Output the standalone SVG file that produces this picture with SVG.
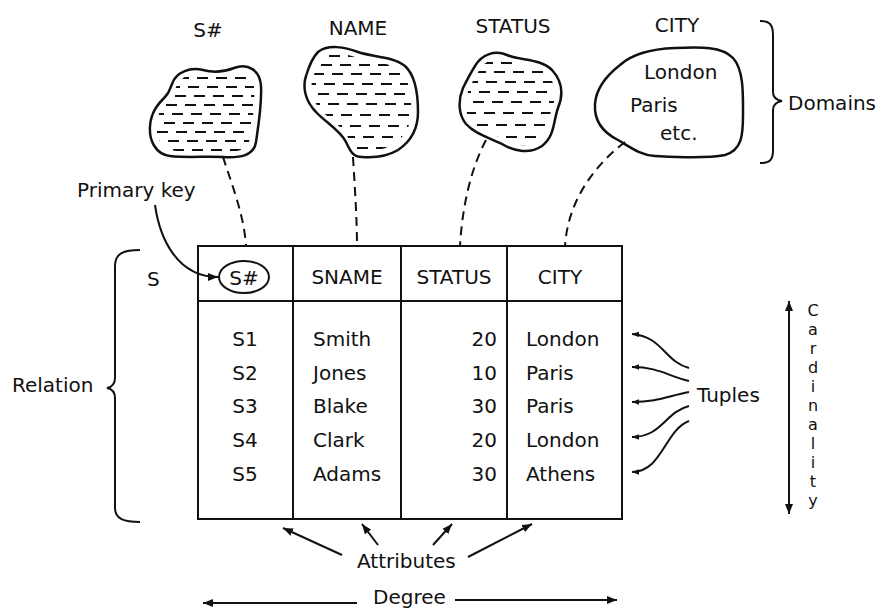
<svg xmlns="http://www.w3.org/2000/svg" xmlns:xlink="http://www.w3.org/1999/xlink" width="880" height="610" viewBox="0 0 880 610">
  <style>
    text { font-family: "DejaVu Sans", "Liberation Sans", sans-serif; font-size: 20px; fill: #111; }
    .card { font-size: 16px; text-anchor: middle; }
    .mid { text-anchor: middle; }
    .end { text-anchor: end; }
    .ln { fill: none; stroke: #111; stroke-width: 2; }
    .dash { fill: none; stroke: #111; stroke-width: 2; stroke-dasharray: 9 6; }
    .hatch line { stroke: #111; stroke-width: 2.2; stroke-dasharray: 11 8; }
    .blob { fill: #fff; stroke: #111; stroke-width: 2.5; }
  </style>
  <defs>
    <marker id="ah" viewBox="0 0 10 8" refX="10" refY="4" markerWidth="10" markerHeight="8" markerUnits="userSpaceOnUse" orient="auto">
      <path d="M0,0 L10,4 L0,8 Z" fill="#111"/>
    </marker>
    <marker id="ahs" viewBox="0 0 10 8" refX="10" refY="4" markerWidth="7" markerHeight="6" markerUnits="userSpaceOnUse" orient="auto">
      <path d="M0,0 L10,4 L0,8 Z" fill="#111"/>
    </marker>
    <marker id="ahb" viewBox="0 0 10 8" refX="10" refY="4" markerWidth="10" markerHeight="8" markerUnits="userSpaceOnUse" orient="auto-start-reverse">
      <path d="M0,0 L10,4 L0,8 Z" fill="#111"/>
    </marker>
    <path id="b-sno" d="M172,84 C176,72 190,67 203,70 C214,73 224,72 234,68 C248,63 260,70 261,86 C262,105 258,128 256,142 C254,156 240,158 223,157 C205,156 188,158 170,156 C155,154 149,140 150,126 C151,112 158,104 165,97 C170,92 170,88 172,84 Z"/>
    <path id="b-name" d="M318,52 C328,44 345,47 358,52 C372,57 392,56 405,66 C416,76 418,95 418,112 C418,130 410,142 398,150 C388,156 376,158 362,157 C352,157 350,150 346,142 C340,130 325,122 316,112 C306,102 302,88 306,76 C309,66 312,58 318,52 Z"/>
    <path id="b-status" d="M475,66 C482,54 495,50 507,55 C520,61 540,58 552,70 C563,82 563,96 558,108 C553,122 555,136 542,146 C530,154 515,152 502,144 C490,138 475,134 466,124 C458,114 458,100 463,88 C467,80 470,74 475,66 Z"/>
    <path id="b-city" d="M620,65 C632,54 650,49 675,48 C700,47 722,46 733,58 C744,70 743,95 743,115 C743,135 742,150 725,155 C705,159 675,157 655,156 C640,155 630,147 618,140 C602,132 594,120 595,104 C596,88 606,76 620,65 Z"/>
    <!-- inner outlines (blob shrunk about its centre) keep the hatching off the edge -->
    <clipPath id="c-sno"><use xlink:href="#b-sno" transform="translate(24.6 13.44) scale(0.88)"/></clipPath>
    <clipPath id="c-name"><use xlink:href="#b-name" transform="translate(43.44 12.24) scale(0.88)"/></clipPath>
    <clipPath id="c-status"><use xlink:href="#b-status" transform="translate(61.2 12.24) scale(0.88)"/></clipPath>
  </defs>

  <!-- domain S# -->
  <g id="domain-sno">
    <text class="mid" x="208" y="37">S#</text>
    <use xlink:href="#b-sno" class="blob"/>
    <g class="hatch" clip-path="url(#c-sno)">
      <line x1="140" y1="78" x2="270" y2="78" stroke-dashoffset="0"/>
      <line x1="140" y1="87" x2="270" y2="87" stroke-dashoffset="9"/>
      <line x1="140" y1="96" x2="270" y2="96" stroke-dashoffset="3"/>
      <line x1="140" y1="105" x2="270" y2="105" stroke-dashoffset="12"/>
      <line x1="140" y1="114" x2="270" y2="114" stroke-dashoffset="6"/>
      <line x1="140" y1="123" x2="270" y2="123" stroke-dashoffset="14"/>
      <line x1="140" y1="132" x2="270" y2="132" stroke-dashoffset="2"/>
      <line x1="140" y1="141" x2="270" y2="141" stroke-dashoffset="10"/>
      <line x1="140" y1="150" x2="270" y2="150" stroke-dashoffset="5"/>
    </g>
  </g>

  <!-- domain NAME -->
  <g id="domain-name">
    <text class="mid" x="358" y="35">NAME</text>
    <use xlink:href="#b-name" class="blob"/>
    <g class="hatch" clip-path="url(#c-name)">
      <line x1="295" y1="56" x2="425" y2="56" stroke-dashoffset="4"/>
      <line x1="295" y1="65" x2="425" y2="65" stroke-dashoffset="12"/>
      <line x1="295" y1="74" x2="425" y2="74" stroke-dashoffset="1"/>
      <line x1="295" y1="84" x2="425" y2="84" stroke-dashoffset="9"/>
      <line x1="295" y1="94" x2="425" y2="94" stroke-dashoffset="15"/>
      <line x1="295" y1="104" x2="425" y2="104" stroke-dashoffset="5"/>
      <line x1="295" y1="115" x2="425" y2="115" stroke-dashoffset="11"/>
      <line x1="295" y1="126" x2="425" y2="126" stroke-dashoffset="2"/>
      <line x1="295" y1="137" x2="425" y2="137" stroke-dashoffset="8"/>
      <line x1="295" y1="148" x2="425" y2="148" stroke-dashoffset="14"/>
    </g>
  </g>

  <!-- domain STATUS -->
  <g id="domain-status">
    <text class="mid" x="513" y="33">STATUS</text>
    <use xlink:href="#b-status" class="blob"/>
    <g class="hatch" clip-path="url(#c-status)">
      <line x1="450" y1="63" x2="570" y2="63" stroke-dashoffset="6"/>
      <line x1="450" y1="72" x2="570" y2="72" stroke-dashoffset="13"/>
      <line x1="450" y1="82" x2="570" y2="82" stroke-dashoffset="2"/>
      <line x1="450" y1="92" x2="570" y2="92" stroke-dashoffset="9"/>
      <line x1="450" y1="102" x2="570" y2="102" stroke-dashoffset="15"/>
      <line x1="450" y1="113" x2="570" y2="113" stroke-dashoffset="4"/>
      <line x1="450" y1="125" x2="570" y2="125" stroke-dashoffset="11"/>
      <line x1="450" y1="137" x2="570" y2="137" stroke-dashoffset="1"/>
      <line x1="450" y1="146" x2="570" y2="146" stroke-dashoffset="8"/>
    </g>
  </g>

  <!-- domain CITY -->
  <g id="domain-city">
    <text class="mid" x="677" y="32">CITY</text>
    <use xlink:href="#b-city" class="blob"/>
    <text x="644" y="79">London</text>
    <text x="630" y="112">Paris</text>
    <text x="660" y="140">etc.</text>
  </g>

  <!-- Domains brace -->
  <g id="domains">
    <path class="ln" d="M760,21 C770,21 773,25 773,35 L773,92 C773,97 776,100 782,101 C776,102 773,105 773,110 L773,150 C773,160 770,163 760,163"/>
    <text x="788" y="110">Domains</text>
  </g>

  <!-- relation S table -->
  <g id="relation-s">
    <rect class="ln" x="198" y="246" width="424" height="273"/>
    <line class="ln" x1="198" y1="301" x2="622" y2="301"/>
    <line class="ln" x1="293" y1="246" x2="293" y2="519"/>
    <line class="ln" x1="401" y1="246" x2="401" y2="519"/>
    <line class="ln" x1="507" y1="246" x2="507" y2="519"/>
    <ellipse class="ln" cx="244" cy="277" rx="25" ry="16"/>
    <text class="mid" x="244" y="285">S#</text>
    <text class="mid" x="347" y="284">SNAME</text>
    <text class="mid" x="454" y="284">STATUS</text>
    <text class="mid" x="560" y="284">CITY</text>

    <text class="mid" x="245" y="346">S1</text>
    <text class="mid" x="245" y="380">S2</text>
    <text class="mid" x="245" y="413">S3</text>
    <text class="mid" x="245" y="447">S4</text>
    <text class="mid" x="245" y="481">S5</text>

    <text x="313" y="346">Smith</text>
    <text x="313" y="380">Jones</text>
    <text x="313" y="413">Blake</text>
    <text x="313" y="447">Clark</text>
    <text x="313" y="481">Adams</text>

    <text class="end" x="497" y="346">20</text>
    <text class="end" x="497" y="380">10</text>
    <text class="end" x="497" y="413">30</text>
    <text class="end" x="497" y="447">20</text>
    <text class="end" x="497" y="481">30</text>

    <text x="526" y="346">London</text>
    <text x="526" y="380">Paris</text>
    <text x="526" y="413">Paris</text>
    <text x="526" y="447">London</text>
    <text x="526" y="481">Athens</text>
  </g>

  <g id="label-s"><text x="147" y="286">S</text></g>

  <g id="relation-label">
    <path class="ln" d="M140,250 C124,250 115,253 115,266 L115,378 C115,384 112,387 107,388 C112,389 115,392 115,398 L115,508 C115,519 124,522 140,522"/>
    <text x="12" y="392">Relation</text>
  </g>

  <g id="primary-key"><text x="77" y="197">Primary key</text></g>
  <g id="tuples"><text x="697" y="402">Tuples</text></g>
  <g id="attributes"><text x="357" y="568">Attributes</text></g>
  <g id="degree"><text x="373" y="604">Degree</text></g>

  <g id="cardinality">
    <text class="card" x="813" y="316">C</text>
    <text class="card" x="813" y="335">a</text>
    <text class="card" x="813" y="354">r</text>
    <text class="card" x="813" y="373">d</text>
    <text class="card" x="813" y="392">i</text>
    <text class="card" x="813" y="411">n</text>
    <text class="card" x="813" y="430">a</text>
    <text class="card" x="813" y="449">l</text>
    <text class="card" x="813" y="468">i</text>
    <text class="card" x="813" y="487">t</text>
    <text class="card" x="813" y="506">y</text>
  </g>

  <!-- connectors -->
  <g id="connectors">
    <path class="dash" d="M223,157 C232,185 244,215 246,246"/>
    <path class="dash" d="M353,157 C355,190 357,220 357,246"/>
    <path class="dash" d="M486,140 C470,170 462,210 460,246"/>
    <path class="dash" d="M625,142 C595,165 568,200 565,246"/>

    <path class="ln" d="M155,205 C160,240 178,277 218,277" marker-end="url(#ah)"/>

    <path class="ln" d="M689,368 C665,362 662,336 632,334" marker-end="url(#ahs)"/>
    <path class="ln" d="M689,381 C668,376 658,367 632,367" marker-end="url(#ahs)"/>
    <path class="ln" d="M689,392 C668,396 658,402 632,402" marker-end="url(#ahs)"/>
    <path class="ln" d="M689,406 C665,412 662,437 632,437" marker-end="url(#ahs)"/>
    <path class="ln" d="M689,421 C665,430 662,472 632,472" marker-end="url(#ahs)"/>

    <line class="ln" x1="789" y1="301" x2="789" y2="514" marker-start="url(#ahb)" marker-end="url(#ahb)"/>

    <line class="ln" x1="342" y1="555" x2="283" y2="528" marker-end="url(#ah)"/>
    <line class="ln" x1="378" y1="545" x2="362" y2="524" marker-end="url(#ah)"/>
    <line class="ln" x1="433" y1="545" x2="452" y2="524" marker-end="url(#ah)"/>
    <line class="ln" x1="468" y1="557" x2="532" y2="524" marker-end="url(#ah)"/>

    <line class="ln" x1="357" y1="603" x2="203" y2="603" marker-end="url(#ah)"/>
    <line class="ln" x1="455" y1="600" x2="617" y2="600" marker-end="url(#ah)"/>
  </g>
</svg>
